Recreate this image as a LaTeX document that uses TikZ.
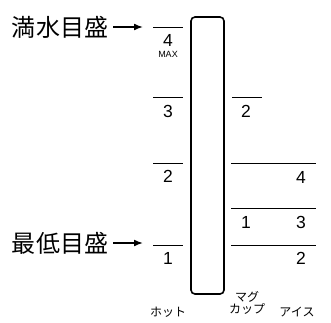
\documentclass[tikz,border=0pt]{standalone}
\usepackage{fontspec}
\setmainfont{Liberation Sans}
\newfontfamily\jpfont{Noto Sans CJK JP}
\usepackage{tikz}
\usetikzlibrary{arrows.meta}

\tikzset{
  tick/.style={line width=0.8pt},
  num/.style={inner sep=0pt, font=\fontsize{17.5}{17.5}\selectfont},
  cup/.style={inner sep=0pt, align=center, font=\jpfont\fontsize{12}{12.5}\selectfont},
}

\begin{document}
\begin{tikzpicture}[x=1pt, y=-1pt]
		\useasboundingbox (0,0) rectangle (331,322);
		
		%Node
		\node[draw, line width=1.6pt, rounded corners=4pt, minimum width=33pt, minimum height=277pt, inner sep=0pt] (tube) at (207.5,155.5) {};
		\node[inner sep=0pt, font=\jpfont\fontsize{24}{24}\selectfont] (full) at (60,27) {満水目盛};
		\node[inner sep=0pt, font=\jpfont\fontsize{24}{24}\selectfont] (low) at (60,243) {最低目盛};
		\coordinate (fullmark) at (143,27);
		\coordinate (lowmark) at (143,243);
		
		%Scale (hot)
		\draw[tick] (153,27) -- (183,27);
		\draw[tick] (153,97) -- (183,97);
		\draw[tick] (153,163) -- (183,163);
		\draw[tick] (153,245) -- (183,245);
		\node[num] (h4) at (168,40) {4};
		\node[inner sep=0pt, font=\fontsize{9}{9}\selectfont] (hmax) at (168,54) {MAX};
		\node[num] (h3) at (168,111) {3};
		\node[num] (h2) at (168,176) {2};
		\node[num] (h1) at (168,258) {1};
		
		%Scale (mug, ice)
		\draw[tick] (232,97) -- (262,97);
		\draw[tick] (231,163) -- (316,163);
		\draw[tick] (231,208) -- (316,208);
		\draw[tick] (231,245) -- (316,245);
		\node[num] (m2) at (246,111) {2};
		\node[num] (m1) at (246,222) {1};
		\node[num] (i4) at (301,177) {4};
		\node[num] (i3) at (301,222) {3};
		\node[num] (i2) at (301,258) {2};
		
		%Cups
		\node[cup] (hot) at (168,312) {ホット};
		\node[cup] (mug) at (247,303) {マグ\\カップ};
		\node[cup] (ice) at (297,312) {アイス};
		
		%Vectors
		\draw[-{Latex[length=9pt, width=7pt]}, line width=1.6pt] (full.east) ++(5,0) -- (fullmark);
		\draw[-{Latex[length=9pt, width=7pt]}, line width=1.6pt] (low.east) ++(5,0) -- (lowmark);
	\end{tikzpicture}
\end{document}
